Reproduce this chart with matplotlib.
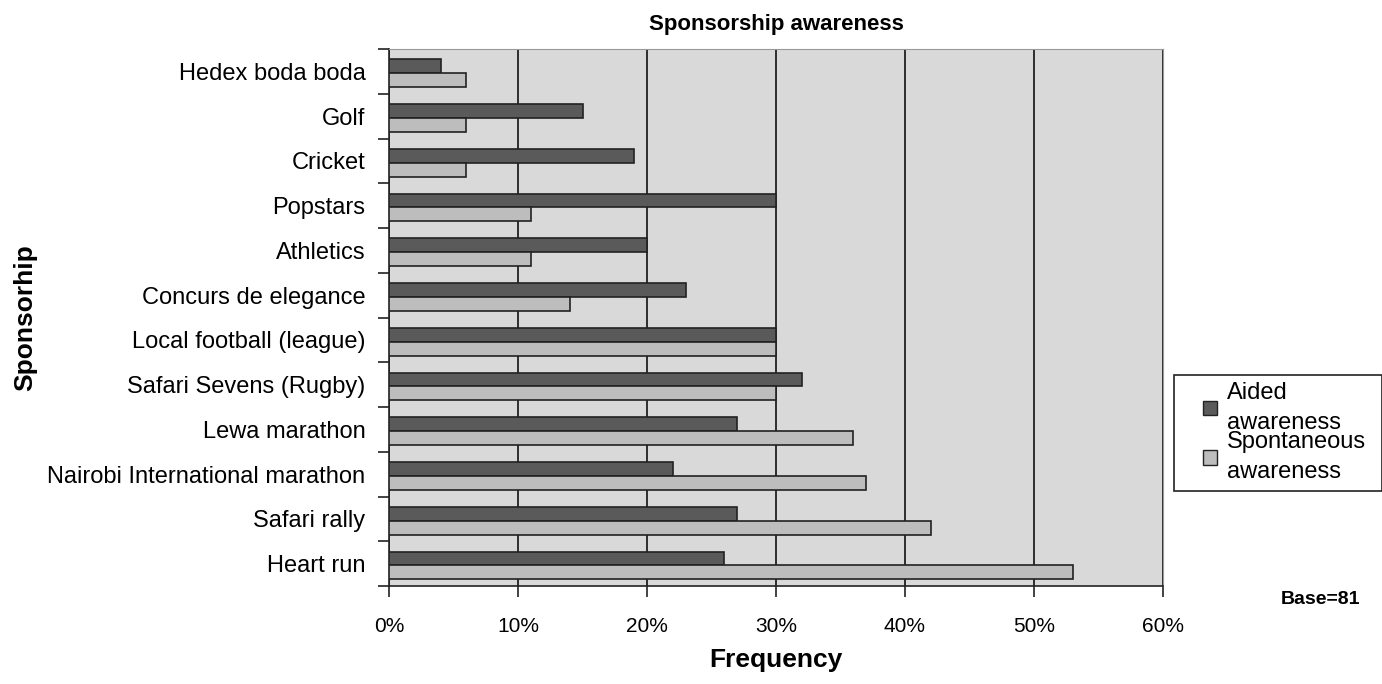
import numpy as np
import matplotlib.pyplot as plt
from matplotlib.patches import Patch, Rectangle

plt.rcParams['font.family'] = ['Liberation Sans', 'DejaVu Sans']

# Categories listed bottom to top
categories = ['Heart run', 'Safari rally', 'Nairobi International marathon', 'Lewa marathon',
              'Safari Sevens (Rugby)', 'Local football (league)', 'Concurs de elegance',
              'Athletics', 'Popstars', 'Cricket', 'Golf', 'Hedex boda boda']
aided = [26, 27, 22, 27, 32, 30, 23, 20, 30, 19, 15, 4]
spontaneous = [53, 42, 37, 36, 30, 30, 14, 11, 11, 6, 6, 6]
xticks = [0, 10, 20, 30, 40, 50, 60]

aided_color = '#5a5a5a'
spont_color = '#bdbdbd'
bg_color = '#d9d9d9'

W, H = 1382, 684
fig = plt.figure(figsize=(13.82, 6.84), dpi=100)
ax = fig.add_axes([389 / W, 1 - 586 / H, (1163 - 389) / W, (586 - 49) / H])
ax.set_facecolor(bg_color)

y = np.arange(len(categories))
h = 0.31
off = -0.04
ax.barh(y + off + h / 2, aided, height=h, color=aided_color, edgecolor='#222222', linewidth=1.2, zorder=3)
ax.barh(y + off - h / 2, spontaneous, height=h, color=spont_color, edgecolor='#222222', linewidth=1.2, zorder=3)

ax.set_xlim(0, 60)
ax.set_ylim(-0.5, len(categories) - 0.5)
ax.set_xticks(xticks)
ax.set_xticklabels([f'{t}%' for t in xticks], fontsize=15)
ax.xaxis.grid(True, color='#111111', linewidth=1.2, zorder=1)

ax.set_yticks(y)
ax.set_yticklabels(categories, fontsize=17)
ax.tick_params(axis='y', length=0, pad=17)
ax.set_yticks(np.arange(-0.5, len(categories), 1), minor=True)
ax.tick_params(axis='y', which='minor', length=8, width=1.2, color='#222222')
ax.tick_params(axis='x', length=8, width=1.2, color='#222222', pad=14)

for s in ['top', 'right']:
    ax.spines[s].set_color('#999999')
for s in ['left', 'bottom']:
    ax.spines[s].set_color('#222222')
    ax.spines[s].set_linewidth(1.2)

ax.set_xlabel('Frequency', fontsize=19, fontweight='bold', labelpad=9)
ax.set_ylabel('Sponsorhip', fontsize=19, fontweight='bold')
ax.yaxis.set_label_coords(-(389 - 37) / 774, 0.5)
ax.set_title('Sponsorship awareness', fontsize=16, fontweight='bold', pad=14)

# legend box drawn by hand, entries placed inside without their own frame
fig.patches.append(Rectangle((1174 / W, 1 - 491 / H), (W - 1174) / W, (491 - 375) / H,
                             transform=fig.transFigure, facecolor='white',
                             edgecolor='#222222', linewidth=1.2))
handles = [Patch(facecolor=aided_color, edgecolor='#222222', label='Aided\nawareness'),
           Patch(facecolor=spont_color, edgecolor='#222222', label='Spontaneous\nawareness')]
leg = fig.legend(handles=handles, loc='upper left', bbox_to_anchor=(1203 / W, 1 - 382 / H),
                 fontsize=17, frameon=False,
                 handlelength=0.6, handleheight=0.6, handletextpad=0.4, labelspacing=-0.1,
                 borderpad=0, borderaxespad=0)
for t in leg.get_texts():
    t.set_linespacing(1.45)

fig.text(1320 / W, 1 - 600 / H, 'Base=81', fontsize=14, fontweight='bold',
         ha='center', va='center')

fig.savefig('out.png', dpi=100)
